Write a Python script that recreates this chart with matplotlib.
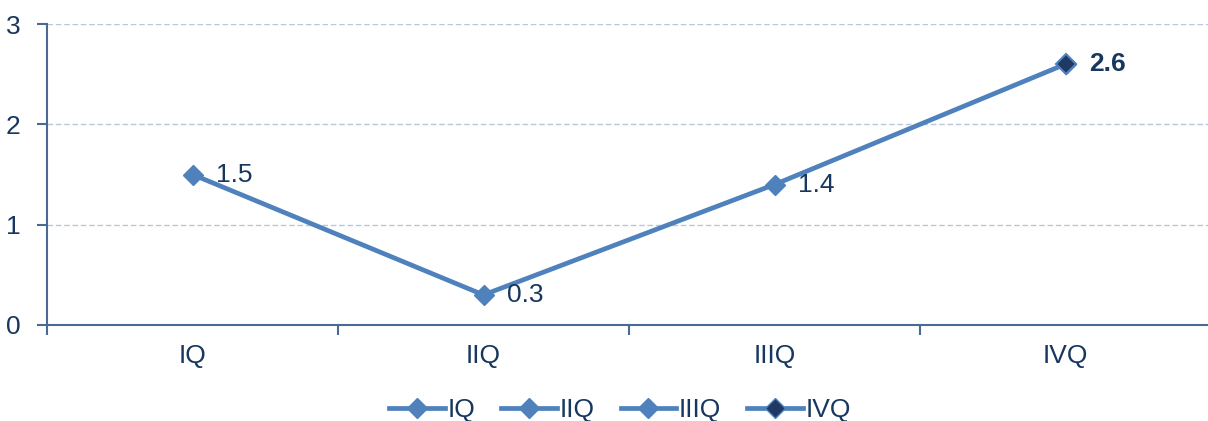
import matplotlib
matplotlib.use('Agg')
import matplotlib.pyplot as plt
from matplotlib.lines import Line2D

categories = ['IQ', 'IIQ', 'IIIQ', 'IVQ']
values = [1.5, 0.3, 1.4, 2.6]
yticks = [0, 1, 2, 3]

line_c = '#4F81BD'
dark_c = '#1F3864'
text_c = '#17375E'
axis_c = '#4A6A96'
grid_c = '#B9C7DA'
fs = 19

plt.rcParams['font.family'] = ['Liberation Sans', 'DejaVu Sans']

fig = plt.figure(figsize=(12.08, 4.21), dpi=100)
ax = fig.add_axes([47 / 1208, 96 / 421, 1164 / 1208, 301 / 421])

x = list(range(len(categories)))
ax.plot(x, values, color=line_c, lw=3.4, marker='D', ms=10,
        mfc=line_c, mec=line_c, zorder=3)
# last point highlighted
ax.plot(x[-1], values[-1], marker='D', ms=10, mfc=dark_c, mec=line_c,
        mew=1.5, ls='none', zorder=4)

for i, v in enumerate(values):
    last = i == len(values) - 1
    ax.annotate(f'{v}', (i, v), xytext=(17, 0),
                textcoords='offset points', va='center', ha='left',
                fontsize=fs, color=text_c,
                fontweight='bold' if last else 'normal')

ax.set_xlim(-0.5, 3.5)
ax.set_ylim(0, 3)
ax.set_yticks(yticks)
ax.set_yticklabels([str(t) for t in yticks])
ax.set_xticks(x)
ax.set_xticklabels(categories)
ax.set_xticks([-0.5, 0.5, 1.5, 2.5, 3.5], minor=True)
ax.tick_params(axis='x', which='major', length=0, pad=14,
               labelsize=fs, labelcolor=text_c)
ax.tick_params(axis='x', which='minor', length=7, width=1.5,
               color=axis_c, direction='out')
ax.tick_params(axis='y', length=7, width=1.5, color=axis_c,
               labelsize=fs, labelcolor=text_c, pad=12)

for s in ['top', 'right']:
    ax.spines[s].set_visible(False)
for s in ['left', 'bottom']:
    ax.spines[s].set_color(axis_c)
    ax.spines[s].set_linewidth(1.5)

ax.yaxis.grid(True, color=grid_c, ls=(0, (4, 2)), lw=1)
ax.set_axisbelow(True)

handles = []
for i, c in enumerate(categories):
    fc = dark_c if i == len(categories) - 1 else line_c
    handles.append(Line2D([0], [0], color=line_c, lw=3.4, marker='D',
                          ms=10, mfc=fc, mec=line_c))
fig.legend(handles, categories, loc='center', bbox_to_anchor=(620 / 1208, 11 / 421),
           ncol=4, frameon=False, fontsize=fs, labelcolor=text_c,
           handlelength=2.1, handletextpad=0.1, columnspacing=1.0)

fig.savefig('out.png', dpi=100)
